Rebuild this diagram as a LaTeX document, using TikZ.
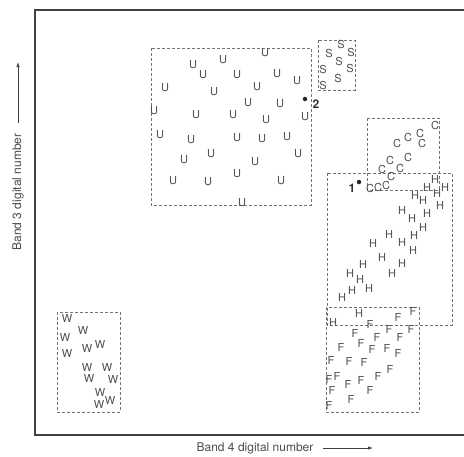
\documentclass[tikz,border=0pt]{standalone}
\usepackage{fontspec}
\setmainfont{TeX Gyre Heros}
\usetikzlibrary{arrows.meta}

\tikzset{
  cls/.style={inner sep=0pt, text=black!70, font=\fontsize{11}{11}\selectfont},
  clsbox/.style={draw=black!55, densely dashed, line width=0.6pt},
  frame/.style={draw=black!75, line width=1.1pt},
  axislabel/.style={inner sep=0pt, text=black!70, font=\fontsize{12}{12}\selectfont},
  axisarrow/.style={draw=black!75, line width=0.7pt, -{Latex[length=5pt,width=3.5pt]}},
  pixel/.style={circle, fill=black!85, inner sep=0pt, minimum size=4.5pt}
}

\begin{document}
\begin{tikzpicture}[x=1pt, y=-1pt]
		\useasboundingbox (0,0) rectangle (464,456);

		% plot frame (right side runs off the page)
		\draw[frame] (464,10) -- (35,10) -- (35,435) -- (464,435);

		% class boxes
		\draw[clsbox] (151,48) rectangle (311,205);   % U
		\draw[clsbox] (318,40) rectangle (355,90);    % S
		\draw[clsbox] (367,118) rectangle (439,190);  % C
		\draw[clsbox] (327,173) rectangle (452,325);  % H
		\draw[clsbox] (326,307) rectangle (419,412);  % F
		\draw[clsbox] (57,312) rectangle (120,412);   % W

		% U: urban
		\foreach \x/\y [count=\i] in {265/53, 193/65, 223/60, 203/75, 237/75, 277/74, 297/81,
			165/88, 214/92, 257/87, 248/103, 280/104, 154/111, 196/115, 233/115, 266/120,
			305/117, 160/135, 191/140, 237/138, 262/139, 287/137, 211/154, 184/160,
			255/162, 298/154, 173/181, 208/182, 237/174, 281/181, 242/203}
			\node[cls] (u\i) at (\x,\y) {U};

		% S: sand
		\foreach \x/\y [count=\i] in {341/44, 329/53, 351/52, 339/61, 350/68, 323/69, 338/78, 323/85}
			\node[cls] (s\i) at (\x,\y) {S};

		% C: corn
		\foreach \x/\y [count=\i] in {435/125, 420/133, 422/143, 408/137, 397/143, 408/157,
			390/160, 400/168, 382/169, 391/176, 386/185, 378/187, 370/188}
			\node[cls] (c\i) at (\x,\y) {C};

		% H: hay
		\foreach \x/\y [count=\i] in {435/179, 427/187, 445/187, 437/193, 415/195, 423/200,
			440/205, 402/210, 427/213, 412/218, 423/227, 414/235, 389/234, 373/243,
			402/242, 413/250, 382/257, 402/263, 363/264, 392/273, 350/273, 360/279,
			369/288, 352/290, 342/297, 359/313, 333/322}
			\node[cls] (h\i) at (\x,\y) {H};

		% F: forest
		\foreach \x/\y [count=\i] in {413/311, 398/317, 370/324, 411/329, 389/329, 355/333,
			400/337, 377/337, 361/343, 372/349, 387/348, 341/347, 398/353, 331/360,
			349/361, 364/362, 390/369, 378/376, 329/379, 337/376, 348/384, 361/380,
			332/390, 370/390, 351/399, 329/405}
			\node[cls] (f\i) at (\x,\y) {F};

		% W: water
		\foreach \x/\y [count=\i] in {67/318, 65/337, 83/330, 67/353, 87/348, 100/344,
			87/367, 107/367, 89/378, 113/379, 100/392, 110/400, 99/404}
			\node[cls] (w\i) at (\x,\y) {W};

		% unknown pixels
		\node[pixel] (p1) at (359,182) {};
		\node[cls, font=\fontsize{12}{12}\selectfont\bfseries, text=black!80] (n1) at (352,188) {1};
		\node[pixel] (p2) at (305,99) {};
		\node[cls, font=\fontsize{12}{12}\selectfont\bfseries, text=black!80] (n2) at (316,104) {2};

		% axes
		\node[axislabel, rotate=90] (ylab) at (18,192) {Band 3 digital number};
		\coordinate (ytail) at (18,123);
		\coordinate (yhead) at (18,62);
		\draw[axisarrow] (ytail) -- (yhead);

		\node[axislabel] (xlab) at (255,448) {Band 4 digital number};
		\coordinate (xtail) at (323,448);
		\coordinate (xhead) at (373,448);
		\draw[axisarrow] (xtail) -- (xhead);
	\end{tikzpicture}
\end{document}
